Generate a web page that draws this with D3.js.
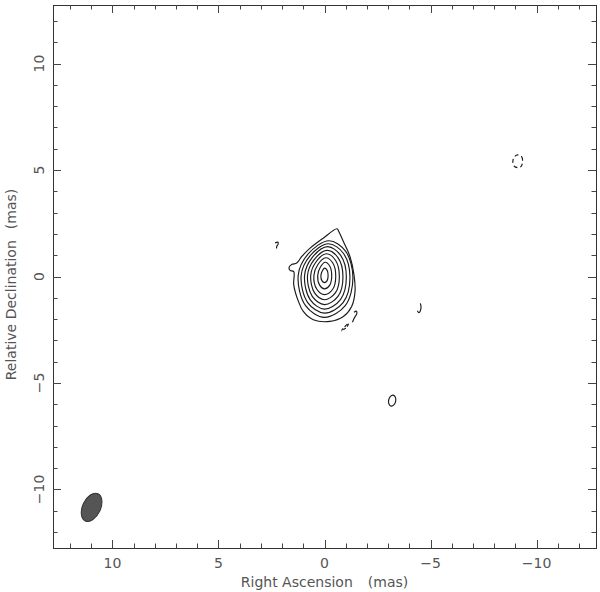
<!DOCTYPE html>
<html><head><meta charset="utf-8">
<script src="https://cdn.jsdelivr.net/npm/d3@7"></script>
<style>
html,body{margin:0;padding:0;background:#fff;}
svg{display:block;}
text{font-family:"DejaVu Sans",sans-serif;fill:#555;}
</style></head>
<body>
<svg id="chart" width="600" height="592"></svg>
<script>
// ---- data (mas) ----
const axisDomain = [12.8, -12.8];          // Right Ascension (decreasing to the right)
const decDomain = [-12.75, 12.75];         // Relative Declination
const majorTicks = [-10, -5, 0, 5, 10];
const majorTickLabels = ["\u221210", "\u22125", "0", "5", "10"];
const minorTicks = [-12,-11,-9,-8,-7,-6,-4,-3,-2,-1,1,2,3,4,6,7,8,9,11,12];

const coreCenter = [0, 0.05];
// inner closed contours around the core: left/right/up/down extents and top lean (mas)
const coreRings = [
  {l:0.17, r:0.17, u:0.34, d:0.34, t:0.00},
  {l:0.32,  r:0.34,  u:0.62, d:0.63, t:0.03},
  {l:0.50,  r:0.53,  u:0.83, d:0.90, t:0.06},
  {l:0.65,  r:0.70,  u:1.02, d:1.14, t:0.09},
  {l:0.80,  r:0.87,  u:1.18, d:1.37, t:0.12},
  {l:0.94,  r:1.03,  u:1.35, d:1.58, t:0.15},
  {l:1.10,  r:1.20,  u:1.49, d:1.77, t:0.18},
  {l:1.24,  r:1.34,  u:1.63, d:1.97, t:0.21}
];
// lowest positive contour around the core [RA, Dec]
const outerContour = [
  [-0.59, 2.24], [0.06, 1.80], [0.68, 1.33], [1.07, 0.94], [1.31, 0.63],
  [1.53, 0.57], [1.67, 0.43], [1.62, 0.29], [1.45, 0.23], [1.45, -0.39],
  [1.23, -1.17], [1.00, -1.64], [0.53, -2.03], [-0.26, -2.11], [-0.89, -1.88],
  [-1.28, -1.41], [-1.44, -0.70], [-1.39, 0.08], [-1.20, 0.94], [-0.89, 1.64],
  [-0.68, 2.10]
];
// small positive islands (open fragments)
const islandA = [[2.33, 1.58], [2.19, 1.61], [2.19, 1.51], [2.25, 1.42], [2.26, 1.32]];
const islandB = [[-1.39, -1.68], [-1.51, -1.63], [-1.52, -1.76], [-1.41, -1.94], [-1.32, -2.15]];
const islandC = [[-4.52, -1.26], [-4.55, -1.42], [-4.52, -1.61], [-4.45, -1.70], [-4.38, -1.61]];
// small closed positive island
const islandD = [[-3.23, -5.57], [-3.33, -5.65], [-3.36, -5.83], [-3.28, -6.02], [-3.15, -6.09],
                 [-3.05, -6.01], [-3.02, -5.83], [-3.10, -5.64]];
// negative (dashed) contours
const negA = [[-0.80, -2.55], [-0.97, -2.34], [-1.13, -2.20], [-1.06, -2.36], [-0.92, -2.48]];
const negB = [[-9.11, 5.71], [-9.30, 5.62], [-9.34, 5.41], [-9.27, 5.17], [-9.11, 5.11],
              [-8.93, 5.20], [-8.88, 5.41], [-8.95, 5.62]];
// restoring beam
const beam = {ra: 10.98, dec: -10.84, major: 1.41, minor: 0.85, pa: -25};

// ---- layout ----
const L = 53, R = 596, T = 5, B = 548;
const svg = d3.select("#chart");
const x = d3.scaleLinear().domain(axisDomain).range([L, R]);
const y = d3.scaleLinear().domain(decDomain).range([B, T]);

// frame
svg.append("rect").attr("x", L + 0.5).attr("y", T + 0.5)
  .attr("width", R - L).attr("height", B - T)
  .attr("fill", "none").attr("stroke", "#333").attr("stroke-width", 1);

// ticks (inward, all four sides)
const tg = svg.append("g").attr("stroke", "#444").attr("stroke-width", 1);
function drawTicks(vals, len) {
  vals.forEach(v => {
    const px = Math.round(x(v)) + 0.5, py = Math.round(y(v)) + 0.5;
    tg.append("line").attr("x1", px).attr("x2", px).attr("y1", B).attr("y2", B - len);
    tg.append("line").attr("x1", px).attr("x2", px).attr("y1", T).attr("y2", T + len);
    tg.append("line").attr("y1", py).attr("y2", py).attr("x1", L).attr("x2", L + len);
    tg.append("line").attr("y1", py).attr("y2", py).attr("x1", R).attr("x2", R - len);
  });
}
drawTicks(minorTicks, 4.5);
drawTicks(majorTicks, 8);

// tick labels
majorTicks.forEach((v, i) => {
  svg.append("text").attr("x", x(v)).attr("y", 568)
    .attr("text-anchor", "middle").attr("font-size", 14).text(majorTickLabels[i]);
  svg.append("text").attr("transform", `translate(43.5,${y(v)}) rotate(-90)`)
    .attr("text-anchor", "middle").attr("font-size", 14).text(majorTickLabels[i]);
});

// axis titles
const xt = svg.append("text").attr("x", (L + R) / 2).attr("y", 586.5)
  .attr("text-anchor", "middle").attr("font-size", 14);
xt.append("tspan").text("Right Ascension");
xt.append("tspan").attr("dx", 15).text("(mas)");
const yt = svg.append("text").attr("transform", `translate(15.5,${(T + B) / 2 + 8}) rotate(-90)`)
  .attr("text-anchor", "middle").attr("font-size", 14);
yt.append("tspan").text("Relative Declination");
yt.append("tspan").attr("dx", 11).text("(mas)");

// contours
const cg = svg.append("g").attr("fill", "none").attr("stroke", "#1a1a1a").attr("stroke-width", 1.15);
const closedLine = d3.line().x(d => x(d[0])).y(d => y(d[1])).curve(d3.curveCatmullRomClosed.alpha(0.5));
const openLine = d3.line().x(d => x(d[0])).y(d => y(d[1])).curve(d3.curveCatmullRom.alpha(0.5));

function ringPoints(r) {
  const [cx, cy] = coreCenter;
  return [
    [cx - r.t, cy + r.u],
    [cx - 0.74 * r.r, cy + 0.70 * r.u],
    [cx - r.r, cy - 0.05 * r.d],
    [cx - 0.73 * r.r, cy - 0.72 * r.d],
    [cx, cy - r.d],
    [cx + 0.72 * r.l, cy - 0.72 * r.d],
    [cx + r.l, cy],
    [cx + 0.62 * r.l, cy + 0.62 * r.u]
  ];
}
coreRings.forEach(r => cg.append("path").attr("d", closedLine(ringPoints(r))));
cg.append("path").attr("d", closedLine(outerContour));
[islandA, islandB, islandC].forEach(p => cg.append("path").attr("d", openLine(p)));
cg.append("path").attr("d", closedLine(islandD));
cg.append("path").attr("d", closedLine(negA)).attr("stroke-dasharray", "3,2");
cg.append("path").attr("d", closedLine(negB)).attr("stroke-dasharray", "4,3");

// beam
const pxPerMasX = Math.abs(x(1) - x(0)), pxPerMasY = Math.abs(y(1) - y(0));
svg.append("ellipse")
  .attr("cx", 0).attr("cy", 0)
  .attr("rx", beam.minor / 2 * pxPerMasX).attr("ry", beam.major / 2 * pxPerMasY)
  .attr("transform", `translate(${x(beam.ra)},${y(beam.dec)}) rotate(${-beam.pa})`)
  .attr("fill", "#555").attr("stroke", "#333").attr("stroke-width", 1);
</script>
</body></html>
